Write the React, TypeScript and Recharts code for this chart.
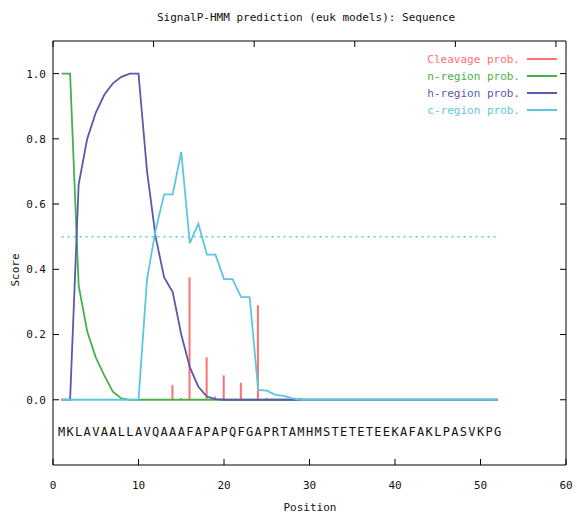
import React from 'react';
import { ComposedChart, Line, Bar, XAxis, YAxis, Scatter, ReferenceLine } from 'recharts';

const sequence = 'MKLAVAALLAVQAAAFAPAPQFGAPRTAMHMSTETETEEKAFAKLPASVKPG'.split('');

const cleavageProb = [
  0, 0, 0, 0, 0, 0, 0, 0, 0, 0,
  0, 0, 0, 0.045, 0.005, 0.375, 0, 0.13, 0.01, 0.075,
  0, 0.052, 0, 0.29, 0.005, 0, 0, 0, 0.005, 0,
  0, 0, 0, 0, 0, 0, 0, 0, 0, 0,
  0, 0, 0, 0, 0, 0, 0, 0, 0, 0,
  0, 0,
];
const nRegionProb = [
  1, 1, 0.35, 0.21, 0.13, 0.075, 0.025, 0.004, 0, 0,
  0, 0, 0, 0, 0, 0, 0, 0, 0, 0,
  0, 0, 0, 0, 0, 0, 0, 0, 0, 0,
  0, 0, 0, 0, 0, 0, 0, 0, 0, 0,
  0, 0, 0, 0, 0, 0, 0, 0, 0, 0,
  0, 0,
];
const hRegionProb = [
  0, 0, 0.66, 0.8, 0.88, 0.935, 0.97, 0.99, 1, 1,
  0.7, 0.5, 0.375, 0.33, 0.2, 0.1, 0.04, 0.01, 0.002, 0,
  0, 0, 0, 0, 0, 0, 0, 0, 0, 0,
  0, 0, 0, 0, 0, 0, 0, 0, 0, 0,
  0, 0, 0, 0, 0, 0, 0, 0, 0, 0,
  0, 0,
];
const cRegionProb = [
  0, 0, 0, 0, 0, 0, 0, 0, 0, 0,
  0.37, 0.52, 0.63, 0.63, 0.76, 0.48, 0.54, 0.445, 0.445, 0.37,
  0.37, 0.315, 0.315, 0.03, 0.028, 0.015, 0.012, 0.004, 0, 0,
  0, 0, 0, 0, 0, 0, 0, 0, 0, 0,
  0, 0, 0, 0, 0, 0, 0, 0, 0, 0,
  0, 0,
];

const xTicks = [0, 10, 20, 30, 40, 50, 60];
const yTicks = [0, 0.2, 0.4, 0.6, 0.8, 1.0];
const threshold = 0.5;
const sequenceRowY = -0.1;

const title = 'SignalP-HMM prediction (euk models): Sequence';
const xLabel = 'Position';
const yLabel = 'Score';

const COLORS = {
  cleavage: '#ff7070',
  n: '#48b048',
  h: '#5a5aaa',
  c: '#5cc6e0',
};

const legendItems = [
  { label: 'Cleavage prob.', color: COLORS.cleavage },
  { label: 'n-region prob.', color: COLORS.n },
  { label: 'h-region prob.', color: COLORS.h },
  { label: 'c-region prob.', color: COLORS.c },
];

const data = sequence.map((letter, i) => ({
  pos: i + 1,
  cl: cleavageProb[i],
  n: nRegionProb[i],
  h: hRegionProb[i],
  c: cRegionProb[i],
}));

const seqData = sequence.map((letter, i) => ({ pos: i + 1, y: sequenceRowY, letter }));

const FONT = '"DejaVu Sans Mono", monospace';
const tickStyle = { fontFamily: FONT, fontSize: 11, fill: '#111' };

const LetterShape = (props: any) => {
  const { cx, cy, payload } = props;
  return (
    <text x={cx} y={cy} textAnchor="middle" dominantBaseline="central" fontFamily={FONT} fontSize={12} fill="#111">
      {payload.letter}
    </text>
  );
};

export default function App() {
  const W = 577;
  const H = 516;
  return (
    <div style={{ position: 'absolute', left: 0, top: 0, width: W, height: H, background: '#fff' }}>
      <ComposedChart width={W} height={H} data={data} margin={{ top: 0, right: 0, bottom: 0, left: 0 }}>
        <XAxis
          xAxisId={0}
          dataKey="pos"
          type="number"
          domain={[0, 60]}
          ticks={xTicks}
          allowDataOverflow
          height={51}
          tickSize={-6}
          tickMargin={22}
          tick={tickStyle}
          axisLine={{ stroke: '#000' }}
          tickLine={{ stroke: '#000' }}
        />
        <XAxis
          xAxisId="top"
          orientation="top"
          type="number"
          domain={[0, 60]}
          ticks={xTicks}
          allowDataOverflow
          height={41}
          tickSize={-6}
          tickFormatter={() => ''}
          axisLine={{ stroke: '#000' }}
          tickLine={{ stroke: '#000' }}
        />
        <YAxis
          yAxisId={0}
          type="number"
          domain={[-0.2, 1.1]}
          ticks={yTicks}
          allowDataOverflow
          width={53}
          tickSize={-6}
          tickMargin={13}
          tick={tickStyle}
          tickFormatter={(v: number) => v.toFixed(1)}
          axisLine={{ stroke: '#000' }}
          tickLine={{ stroke: '#000' }}
        />
        <YAxis
          yAxisId="right"
          orientation="right"
          type="number"
          domain={[-0.2, 1.1]}
          ticks={yTicks}
          allowDataOverflow
          width={11}
          tickSize={-6}
          tickFormatter={() => ''}
          axisLine={{ stroke: '#000' }}
          tickLine={{ stroke: '#000' }}
        />
        <ReferenceLine
          segment={[
            { x: data[0].pos, y: threshold },
            { x: data[data.length - 1].pos, y: threshold },
          ]}
          stroke={COLORS.c}
          strokeWidth={1.5}
          strokeDasharray="2 4"
        />
        <Bar dataKey="cl" fill={COLORS.cleavage} barSize={2} isAnimationActive={false} />
        <Line type="linear" dataKey="n" stroke={COLORS.n} strokeWidth={1.8} dot={false} isAnimationActive={false} />
        <Line type="linear" dataKey="h" stroke={COLORS.h} strokeWidth={1.8} dot={false} isAnimationActive={false} />
        <Line type="linear" dataKey="c" stroke={COLORS.c} strokeWidth={1.8} dot={false} isAnimationActive={false} />
        <Scatter data={seqData} dataKey="y" shape={LetterShape} isAnimationActive={false} />
      </ComposedChart>
      <svg width={W} height={H} style={{ position: 'absolute', left: 0, top: 0, pointerEvents: 'none' }}>
        <text x={306} y={21} textAnchor="middle" fontFamily={FONT} fontSize={11} fill="#111">{title}</text>
        <text x={310} y={511} textAnchor="middle" fontFamily={FONT} fontSize={11} fill="#111">{xLabel}</text>
        <text x={19} y={270} textAnchor="middle" fontFamily={FONT} fontSize={11} fill="#111" transform="rotate(-90 19 270)">{yLabel}</text>
        {legendItems.map((it, i) => {
          const y = 59 + i * 17;
          return (
            <g key={it.label}>
              <text x={520} y={y + 4} textAnchor="end" fontFamily={FONT} fontSize={11} fill={it.color}>{it.label}</text>
              <line x1={527} x2={557} y1={y} y2={y} stroke={it.color} strokeWidth={2} />
            </g>
          );
        })}
      </svg>
    </div>
  );
}
